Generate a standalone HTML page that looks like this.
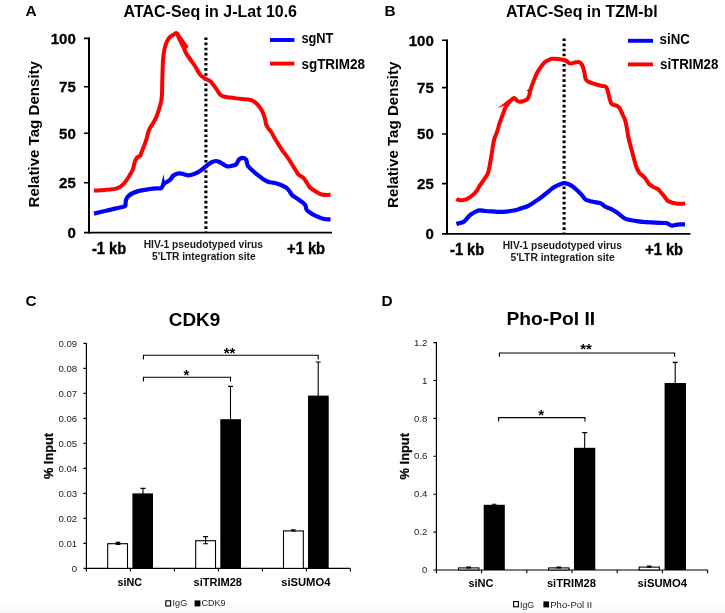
<!DOCTYPE html>
<html lang="en"><head><meta charset="utf-8"><title>Figure</title>
<style>
html,body{margin:0;padding:0;background:#fff;}
body{width:725px;height:613px;overflow:hidden;}
svg{display:block;font-family:"Liberation Sans",Arial,Helvetica,sans-serif;}
</style></head><body>
<svg width="725" height="613" viewBox="0 0 725 613">
<defs><linearGradient id="bg" x1="0" y1="0" x2="0" y2="1"><stop offset="0" stop-color="#ffffff"/><stop offset="1" stop-color="#f6f6f6"/></linearGradient></defs>
<rect x="0" y="0" width="725" height="613" fill="#fff"/>
<rect x="0" y="602" width="725" height="11" fill="url(#bg)"/>
<text x="25.6" y="16.4" font-size="15.4" font-weight="bold" text-anchor="start" fill="#000" >A</text>
<text x="123.6" y="16.6" font-size="15.8" font-weight="bold" text-anchor="start" fill="#000" textLength="173.4" lengthAdjust="spacingAndGlyphs" >ATAC-Seq in J-Lat 10.6</text>
<path d="M84,38.4 H89 M84,86.8 H89 M84,133.2 H89 M84,182.8 H89" stroke="#000" stroke-width="1.6" fill="none"/>
<path d="M89,37.6 V233.4" stroke="#000" stroke-width="2" fill="none"/>
<path d="M84,232.6 H332" stroke="#000" stroke-width="1.8" fill="none"/>
<text x="75.8" y="44.4" font-size="15" font-weight="bold" text-anchor="end" fill="#000" stroke="#000" stroke-width="0.3">100</text>
<text x="75.8" y="92.2" font-size="15" font-weight="bold" text-anchor="end" fill="#000" stroke="#000" stroke-width="0.3">75</text>
<text x="75.8" y="138.6" font-size="15" font-weight="bold" text-anchor="end" fill="#000" stroke="#000" stroke-width="0.3">50</text>
<text x="75.8" y="188.2" font-size="15" font-weight="bold" text-anchor="end" fill="#000" stroke="#000" stroke-width="0.3">25</text>
<text x="75.8" y="237.6" font-size="15" font-weight="bold" text-anchor="end" fill="#000" stroke="#000" stroke-width="0.3">0</text>
<text x="39.2" y="207.4" font-size="15.4" font-weight="bold" text-anchor="start" fill="#000" textLength="146.4" lengthAdjust="spacingAndGlyphs" transform="rotate(-90 39.2 207.4)" >Relative Tag Density</text>
<path d="M205.9,37.5 V232" stroke="#000" stroke-width="3.1" stroke-dasharray="2.6 2.504" fill="none"/>
<path d="M94.0,190.4 C95.3,190.4 99.3,190.3 102.0,190.2 C104.7,190.1 107.7,189.9 110.0,189.6 C112.3,189.3 114.3,189.0 116.0,188.6 C117.7,188.2 118.7,187.8 120.0,187.0 C121.3,186.2 122.7,185.0 124.0,183.5 C125.3,182.0 126.8,179.8 128.0,178.0 C129.2,176.2 130.2,174.5 131.0,173.0 C131.8,171.5 132.4,170.7 133.0,169.0 C133.6,167.3 134.0,164.7 134.5,163.0 C135.0,161.3 135.4,160.0 136.0,159.0 C136.6,158.0 137.3,157.5 138.0,157.0 C138.7,156.5 139.3,157.0 140.0,156.0 C140.7,155.0 141.3,152.7 142.0,151.0 C142.7,149.3 143.2,148.0 144.0,146.0 C144.8,144.0 145.7,141.7 146.5,139.0 C147.3,136.3 147.8,132.8 149.0,130.0 C150.2,127.2 152.2,124.8 153.5,122.5 C154.8,120.2 155.4,119.2 156.5,116.5 C157.6,113.8 159.1,109.2 160.0,106.0 C160.9,102.8 161.4,101.3 161.8,97.0 C162.2,92.7 162.1,86.2 162.3,80.0 C162.5,73.8 162.7,65.0 163.0,60.0 C163.3,55.0 163.8,52.7 164.3,50.0 C164.8,47.3 165.4,45.8 166.0,44.0 C166.6,42.2 167.3,40.7 168.0,39.5 C168.7,38.3 169.2,37.8 170.0,37.0 C170.8,36.2 171.9,35.7 173.0,35.0 C174.1,34.3 175.4,32.5 176.4,33.0 C177.4,33.5 177.9,35.8 179.0,38.0 C180.1,40.2 181.8,43.5 183.0,46.0 C184.2,48.5 184.8,50.8 186.0,53.0 C187.2,55.2 188.5,56.8 190.0,59.0 C191.5,61.2 193.3,63.4 195.0,66.0 C196.7,68.6 198.3,72.4 200.0,74.5 C201.7,76.6 203.3,77.4 205.0,78.5 C206.7,79.6 208.3,79.6 210.0,81.0 C211.7,82.4 213.3,84.8 215.0,87.0 C216.7,89.2 218.5,92.9 220.0,94.5 C221.5,96.1 222.3,96.0 224.0,96.5 C225.7,97.0 227.3,97.2 230.0,97.6 C232.7,98.0 236.7,98.4 240.0,98.8 C243.3,99.2 247.7,99.3 250.0,99.8 C252.3,100.2 252.7,100.6 254.0,101.5 C255.3,102.4 256.8,103.8 258.0,105.0 C259.2,106.2 260.2,107.7 261.0,109.0 C261.8,110.3 262.3,111.3 263.0,113.0 C263.7,114.7 264.5,117.2 265.0,119.0 C265.5,120.8 265.5,122.5 266.0,124.0 C266.5,125.5 267.2,126.8 268.0,128.0 C268.8,129.2 270.0,130.0 271.0,131.5 C272.0,133.0 273.0,135.2 274.0,137.0 C275.0,138.8 275.7,139.8 277.0,142.0 C278.3,144.2 280.2,147.3 282.0,150.0 C283.8,152.7 286.2,155.3 288.0,158.0 C289.8,160.7 291.3,163.3 293.0,166.0 C294.7,168.7 296.7,172.3 298.0,174.0 C299.3,175.7 300.0,175.4 301.0,176.2 C302.0,176.9 303.0,177.4 304.0,178.5 C305.0,179.6 306.0,181.5 307.0,183.0 C308.0,184.5 308.7,186.2 310.0,187.5 C311.3,188.8 313.3,189.9 315.0,191.0 C316.7,192.1 318.3,193.1 320.0,193.8 C321.7,194.5 323.2,194.9 325.0,195.0 C326.8,195.1 329.6,194.7 330.5,194.6" stroke="#ff0000" stroke-width="4.0" fill="none" stroke-linejoin="round" stroke-linecap="butt"/>
<path d="M176.6,31.8 L178.2,32.0 L188.2,46.0 L187.8,47.6 L185.6,49.2 L181.0,47.0 L177.0,37.0Z" fill="#ff0000"/>
<path d="M94.0,213.6 C95.8,213.2 101.5,211.8 105.0,211.0 C108.5,210.2 111.8,209.4 115.0,208.6 C118.2,207.8 122.8,207.2 124.5,206.4 C126.2,205.6 125.2,205.1 125.5,204.0 C125.8,202.9 125.6,201.2 126.0,200.0 C126.4,198.8 127.0,197.6 128.0,196.5 C129.0,195.4 130.0,194.5 132.0,193.5 C134.0,192.5 137.0,191.3 140.0,190.6 C143.0,189.8 147.2,189.4 150.0,189.0 C152.8,188.6 155.1,188.5 157.0,188.4 C158.9,188.3 160.2,188.8 161.2,188.2 C162.2,187.6 162.6,185.7 163.2,184.8 C163.8,183.9 164.2,183.5 165.0,182.9 C165.8,182.3 167.1,181.9 168.0,181.3 C168.9,180.7 169.8,180.1 170.5,179.3 C171.2,178.5 171.8,177.4 172.5,176.6 C173.2,175.8 174.1,175.1 175.0,174.6 C175.9,174.1 177.2,173.7 178.0,173.5 C178.8,173.3 179.0,173.2 180.0,173.3 C181.0,173.4 182.6,173.9 184.0,174.2 C185.4,174.5 186.9,175.3 188.6,175.3 C190.3,175.3 192.1,174.7 194.0,174.0 C195.9,173.3 198.2,172.2 200.0,171.0 C201.8,169.8 203.3,168.3 205.0,167.0 C206.7,165.7 208.7,164.1 210.0,163.2 C211.3,162.3 212.0,162.0 213.0,161.6 C214.0,161.2 215.0,161.0 216.0,161.0 C217.0,161.0 218.0,161.4 219.0,161.8 C220.0,162.2 221.0,162.9 222.0,163.5 C223.0,164.1 224.0,164.8 225.0,165.3 C226.0,165.8 226.8,166.4 228.0,166.5 C229.2,166.6 230.7,166.2 232.0,165.8 C233.3,165.5 235.1,165.0 236.0,164.4 C236.9,163.8 237.0,162.8 237.5,162.0 C238.0,161.2 238.4,160.2 239.0,159.6 C239.6,159.0 240.3,158.5 241.0,158.2 C241.7,157.9 242.3,157.9 243.0,158.0 C243.7,158.1 244.4,158.2 245.0,158.6 C245.6,159.0 246.1,159.6 246.4,160.3 C246.7,161.0 246.7,162.1 247.0,163.0 C247.3,163.9 247.0,164.7 248.0,166.0 C249.0,167.3 251.3,169.5 253.0,171.0 C254.7,172.5 256.3,173.9 258.0,175.2 C259.7,176.5 261.3,177.9 263.0,179.0 C264.7,180.1 266.5,181.1 268.0,181.7 C269.5,182.3 270.7,182.2 272.0,182.5 C273.3,182.8 274.5,182.8 276.0,183.2 C277.5,183.6 279.3,184.3 281.0,185.0 C282.7,185.7 284.7,186.7 286.0,187.6 C287.3,188.5 288.0,189.3 289.0,190.5 C290.0,191.7 290.7,193.7 292.0,195.0 C293.3,196.3 295.3,197.3 297.0,198.5 C298.7,199.7 300.8,201.1 302.0,202.0 C303.2,202.9 303.9,203.4 304.5,204.2 C305.1,204.9 305.5,205.7 305.8,206.5 C306.1,207.3 306.0,208.3 306.3,209.0 C306.6,209.7 306.9,210.1 307.5,210.7 C308.1,211.3 308.9,211.8 310.0,212.5 C311.1,213.2 312.5,214.2 314.0,215.0 C315.5,215.8 317.3,216.6 319.0,217.3 C320.7,218.0 322.1,218.6 324.0,219.0 C325.9,219.4 329.4,219.4 330.5,219.5" stroke="#0000ff" stroke-width="4.2" fill="none" stroke-linejoin="round"/>
<path d="M160.2,188.8 L163.4,174.3 L164.8,182.0 L164.0,187.0Z" fill="#0000ff"/>
<path d="M170.4,177.2 L170.9,174.4 L175.0,173.0 L174.5,176.0Z" fill="#0000ff"/>
<path d="M270,40 H294.4" stroke="#0000ff" stroke-width="3.9"/>
<path d="M270,63.6 H294.4" stroke="#ff0000" stroke-width="3.9"/>
<text x="301.4" y="43.3" font-size="14" font-weight="bold" text-anchor="start" fill="#000" textLength="32.0" lengthAdjust="spacingAndGlyphs" >sgNT</text>
<text x="301.4" y="68.9" font-size="14" font-weight="bold" text-anchor="start" fill="#000" textLength="63.7" lengthAdjust="spacingAndGlyphs" >sgTRIM28</text>
<text x="91.9" y="253.9" font-size="16.5" font-weight="bold" text-anchor="start" fill="#000" textLength="34.2" lengthAdjust="spacingAndGlyphs" stroke="#000" stroke-width="0.4">-1 kb</text>
<text x="287.1" y="253.9" font-size="16.5" font-weight="bold" text-anchor="start" fill="#000" textLength="38.0" lengthAdjust="spacingAndGlyphs" stroke="#000" stroke-width="0.4">+1 kb</text>
<text x="143.7" y="248.1" font-size="10.6" font-weight="bold" text-anchor="start" fill="#1a1a1a" textLength="119.3" lengthAdjust="spacingAndGlyphs" >HIV-1 pseudotyped virus</text>
<text x="152.0" y="260.1" font-size="10.6" font-weight="bold" text-anchor="start" fill="#1a1a1a" textLength="103.7" lengthAdjust="spacingAndGlyphs" >5'LTR integration site</text>
<text x="384.6" y="16.4" font-size="15.4" font-weight="bold" text-anchor="start" fill="#000" >B</text>
<text x="506.0" y="16.6" font-size="15.8" font-weight="bold" text-anchor="start" fill="#000" textLength="151.7" lengthAdjust="spacingAndGlyphs" >ATAC-Seq in TZM-bl</text>
<path d="M442,40.2 H447 M442,87.6 H447 M442,134 H447 M442,183.6 H447" stroke="#000" stroke-width="1.6" fill="none"/>
<path d="M447,39.4 V234.6" stroke="#000" stroke-width="2" fill="none"/>
<path d="M442,233.8 H690.4" stroke="#000" stroke-width="1.8" fill="none"/>
<text x="433.8" y="45.6" font-size="15" font-weight="bold" text-anchor="end" fill="#000" stroke="#000" stroke-width="0.3">100</text>
<text x="433.8" y="93.0" font-size="15" font-weight="bold" text-anchor="end" fill="#000" stroke="#000" stroke-width="0.3">75</text>
<text x="433.8" y="139.4" font-size="15" font-weight="bold" text-anchor="end" fill="#000" stroke="#000" stroke-width="0.3">50</text>
<text x="433.8" y="189.0" font-size="15" font-weight="bold" text-anchor="end" fill="#000" stroke="#000" stroke-width="0.3">25</text>
<text x="433.8" y="238.8" font-size="15" font-weight="bold" text-anchor="end" fill="#000" stroke="#000" stroke-width="0.3">0</text>
<text x="397.6" y="208.0" font-size="15.4" font-weight="bold" text-anchor="start" fill="#000" textLength="146.4" lengthAdjust="spacingAndGlyphs" transform="rotate(-90 397.6 208.0)" >Relative Tag Density</text>
<path d="M564.1,38.45 V233" stroke="#000" stroke-width="3.1" stroke-dasharray="2.6 2.504" fill="none"/>
<path d="M456.4,199.0 C456.8,199.2 458.1,199.8 459.0,200.0 C459.9,200.2 460.8,200.3 462.0,200.2 C463.2,200.1 464.7,199.9 466.0,199.4 C467.3,198.9 468.7,198.1 470.0,197.2 C471.3,196.3 472.8,195.1 474.0,194.0 C475.2,192.9 476.1,191.8 477.0,190.5 C477.9,189.2 478.7,187.3 479.5,186.0 C480.3,184.7 481.1,183.8 482.0,182.5 C482.9,181.2 484.0,179.6 485.0,178.0 C486.0,176.4 487.2,175.2 488.0,173.0 C488.8,170.8 489.3,167.5 489.8,165.0 C490.3,162.5 490.6,160.5 491.0,158.0 C491.4,155.5 491.9,152.7 492.3,150.0 C492.7,147.3 493.2,144.2 493.6,142.0 C494.1,139.8 494.4,138.7 495.0,137.0 C495.6,135.3 496.4,133.7 497.0,132.0 C497.6,130.3 498.0,128.7 498.5,127.0 C499.0,125.3 499.2,124.2 500.0,122.0 C500.8,119.8 502.0,116.6 503.0,114.0 C504.0,111.4 504.8,108.6 506.0,106.5 C507.2,104.4 508.7,102.9 510.0,101.5 C511.3,100.1 512.9,98.2 514.0,98.0 C515.1,97.8 515.7,99.4 516.5,100.0 C517.3,100.6 517.9,101.4 519.0,101.6 C520.1,101.8 521.8,101.5 523.0,101.2 C524.2,100.9 525.2,100.5 526.0,100.0 C526.8,99.5 527.3,99.2 527.8,98.5 C528.3,97.8 528.6,97.1 529.0,96.0 C529.4,94.9 529.7,93.3 530.0,92.0 C530.3,90.7 530.3,90.0 531.0,88.0 C531.7,86.0 533.0,82.5 534.0,80.0 C535.0,77.5 535.9,75.1 537.0,73.0 C538.1,70.9 539.3,69.2 540.5,67.5 C541.7,65.8 542.8,64.2 544.0,63.0 C545.2,61.8 546.7,61.0 548.0,60.3 C549.3,59.6 550.3,59.0 552.0,58.8 C553.7,58.6 556.0,58.8 558.0,59.0 C560.0,59.2 562.5,59.6 564.0,60.0 C565.5,60.4 566.0,60.7 567.0,61.3 C568.0,61.9 568.8,63.4 570.0,63.6 C571.2,63.8 572.7,62.9 574.0,62.6 C575.3,62.3 576.8,61.9 578.0,62.0 C579.2,62.1 580.2,62.7 581.0,63.5 C581.8,64.3 582.4,65.4 583.0,67.0 C583.6,68.6 584.1,71.0 584.5,73.0 C584.9,75.0 585.0,77.6 585.6,79.0 C586.2,80.4 586.9,80.8 588.0,81.5 C589.1,82.2 590.3,82.6 592.0,83.2 C593.7,83.8 596.2,84.5 598.0,85.0 C599.8,85.5 601.8,85.8 603.0,86.0 C604.2,86.2 604.8,86.1 605.5,86.5 C606.2,86.9 606.5,87.2 607.0,88.5 C607.5,89.8 608.0,92.1 608.5,94.0 C609.0,95.9 609.5,98.3 610.0,100.0 C610.5,101.7 610.9,103.2 611.6,104.0 C612.3,104.8 613.1,104.7 614.0,105.0 C614.9,105.3 616.1,105.3 617.0,105.8 C617.9,106.3 618.8,107.1 619.5,108.0 C620.2,108.9 620.4,109.8 621.0,111.0 C621.6,112.2 622.3,114.0 623.0,115.5 C623.7,117.0 624.5,118.4 625.0,120.0 C625.5,121.6 625.9,123.2 626.3,125.0 C626.7,126.8 626.9,128.8 627.3,131.0 C627.7,133.2 628.0,135.8 628.5,138.0 C629.0,140.2 629.2,141.2 630.0,144.0 C630.8,146.8 632.0,151.3 633.0,155.0 C634.0,158.7 635.2,163.4 636.0,166.0 C636.8,168.6 637.3,169.2 638.0,170.5 C638.7,171.8 639.2,172.6 640.0,173.5 C640.8,174.4 642.2,175.2 643.0,176.0 C643.8,176.8 644.3,177.2 645.0,178.0 C645.7,178.8 646.3,180.0 647.0,181.0 C647.7,182.0 648.0,183.0 649.0,184.0 C650.0,185.0 651.5,185.9 653.0,186.8 C654.5,187.7 656.7,188.2 658.0,189.2 C659.3,190.1 660.0,191.4 661.0,192.5 C662.0,193.6 663.2,195.0 664.0,196.0 C664.8,197.0 665.3,197.9 666.0,198.7 C666.7,199.5 667.0,200.3 668.0,201.0 C669.0,201.7 670.7,202.2 672.0,202.6 C673.3,203.0 674.7,203.2 676.0,203.4 C677.3,203.6 678.5,203.7 680.0,203.7 C681.5,203.7 684.2,203.6 685.0,203.6" stroke="#ff0000" stroke-width="4.0" fill="none" stroke-linejoin="round"/>
<path d="M497.4,108.2 L510.0,98.4 L506.0,105.0Z" fill="#ff0000"/>
<path d="M526.2,90.6 L530.0,88.4 L530.0,92.6Z" fill="#ff0000"/>
<path d="M456.4,224.0 C457.0,223.8 458.7,223.4 460.0,223.0 C461.3,222.6 462.8,222.3 464.0,221.6 C465.2,220.8 466.0,219.6 467.0,218.5 C468.0,217.4 468.8,216.2 470.0,215.2 C471.2,214.2 472.5,213.3 474.0,212.5 C475.5,211.7 477.2,210.7 479.0,210.4 C480.8,210.2 482.8,210.8 485.0,211.0 C487.2,211.2 489.7,211.3 492.0,211.4 C494.3,211.5 496.7,211.8 499.0,211.8 C501.3,211.8 503.8,211.8 506.0,211.6 C508.2,211.4 510.0,211.2 512.0,210.8 C514.0,210.4 516.2,209.9 518.0,209.4 C519.8,208.9 521.3,208.4 523.0,207.8 C524.7,207.2 526.3,206.8 528.0,206.0 C529.7,205.2 531.3,204.1 533.0,203.0 C534.7,201.9 536.3,200.8 538.0,199.6 C539.7,198.4 541.3,197.3 543.0,196.0 C544.7,194.7 546.5,193.2 548.0,192.0 C549.5,190.8 550.8,189.5 552.0,188.6 C553.2,187.7 553.8,187.2 555.0,186.6 C556.2,186.0 557.5,185.4 559.0,184.8 C560.5,184.2 562.5,183.3 564.0,183.2 C565.5,183.1 566.7,183.5 568.0,184.0 C569.3,184.5 570.7,185.1 572.0,186.0 C573.3,186.9 574.7,188.1 576.0,189.3 C577.3,190.5 578.8,191.8 580.0,193.0 C581.2,194.2 582.2,195.5 583.0,196.5 C583.8,197.5 584.2,198.3 585.0,199.0 C585.8,199.7 586.8,200.2 588.0,200.6 C589.2,201.0 590.7,201.2 592.0,201.5 C593.3,201.8 594.7,202.1 596.0,202.3 C597.3,202.6 598.9,202.6 600.0,203.0 C601.1,203.4 601.7,203.9 602.5,204.5 C603.3,205.1 603.9,205.9 605.0,206.5 C606.1,207.1 607.7,207.6 609.0,208.2 C610.3,208.8 611.5,209.2 613.0,210.0 C614.5,210.8 616.2,212.0 618.0,213.3 C619.8,214.6 622.5,217.0 624.0,218.0 C625.5,219.0 626.0,219.0 627.0,219.3 C628.0,219.6 628.3,219.7 630.0,220.0 C631.7,220.3 634.7,220.9 637.0,221.2 C639.3,221.5 641.0,221.8 644.0,222.0 C647.0,222.2 651.3,222.5 655.0,222.7 C658.7,222.9 663.7,222.7 666.0,223.0 C668.3,223.3 668.1,223.9 669.0,224.3 C669.9,224.8 670.6,225.6 671.6,225.7 C672.6,225.8 673.6,225.2 675.0,225.0 C676.4,224.8 678.3,224.5 680.0,224.4 C681.7,224.3 684.2,224.3 685.0,224.3" stroke="#0000ff" stroke-width="4.2" fill="none" stroke-linejoin="round"/>
<path d="M628,40.8 H653" stroke="#0000ff" stroke-width="3.9"/>
<path d="M628,64.4 H653" stroke="#ff0000" stroke-width="3.9"/>
<text x="659.6" y="44.1" font-size="14" font-weight="bold" text-anchor="start" fill="#000" textLength="30.2" lengthAdjust="spacingAndGlyphs" >siNC</text>
<text x="660.0" y="69.2" font-size="14" font-weight="bold" text-anchor="start" fill="#000" textLength="58.4" lengthAdjust="spacingAndGlyphs" >siTRIM28</text>
<text x="450.0" y="254.9" font-size="16.5" font-weight="bold" text-anchor="start" fill="#000" textLength="34.2" lengthAdjust="spacingAndGlyphs" stroke="#000" stroke-width="0.4">-1 kb</text>
<text x="645.2" y="254.9" font-size="16.5" font-weight="bold" text-anchor="start" fill="#000" textLength="37.8" lengthAdjust="spacingAndGlyphs" stroke="#000" stroke-width="0.4">+1 kb</text>
<text x="502.7" y="249.0" font-size="10.6" font-weight="bold" text-anchor="start" fill="#1a1a1a" textLength="119.3" lengthAdjust="spacingAndGlyphs" >HIV-1 pseudotyped virus</text>
<text x="510.4" y="261.0" font-size="10.6" font-weight="bold" text-anchor="start" fill="#1a1a1a" textLength="104.3" lengthAdjust="spacingAndGlyphs" >5'LTR integration site</text>
<text x="25.6" y="306.4" font-size="15.4" font-weight="bold" text-anchor="start" fill="#000" >C</text>
<text x="168.8" y="326.0" font-size="19" font-weight="bold" text-anchor="start" fill="#000" textLength="51.4" lengthAdjust="spacingAndGlyphs" >CDK9</text>
<path d="M86.4,343 V571.6" stroke="#000" stroke-width="1.2"/>
<path d="M83.4,568.4 H350.4" stroke="#000" stroke-width="1.2"/>
<path d="M83.4,543.4 H86.4 M83.4,518.4 H86.4 M83.4,493.4 H86.4 M83.4,468.4 H86.4 M83.4,443.4 H86.4 M83.4,418.4 H86.4 M83.4,393.4 H86.4 M83.4,368.4 H86.4 M83.4,343.4 H86.4 M130.4,568.4 V571.6 M174.4,568.4 V571.6 M218.4,568.4 V571.6 M262.4,568.4 V571.6 M306.4,568.4 V571.6 M350.4,568.4 V571.6 " stroke="#000" stroke-width="1.1" fill="none"/>
<text x="77.2" y="571.5" font-size="9.6" font-weight="normal" text-anchor="end" fill="#1a1a1a" >0</text>
<text x="77.2" y="546.5" font-size="9.6" font-weight="normal" text-anchor="end" fill="#1a1a1a" >0.01</text>
<text x="77.2" y="521.5" font-size="9.6" font-weight="normal" text-anchor="end" fill="#1a1a1a" >0.02</text>
<text x="77.2" y="496.5" font-size="9.6" font-weight="normal" text-anchor="end" fill="#1a1a1a" >0.03</text>
<text x="77.2" y="471.5" font-size="9.6" font-weight="normal" text-anchor="end" fill="#1a1a1a" >0.04</text>
<text x="77.2" y="446.5" font-size="9.6" font-weight="normal" text-anchor="end" fill="#1a1a1a" >0.05</text>
<text x="77.2" y="421.5" font-size="9.6" font-weight="normal" text-anchor="end" fill="#1a1a1a" >0.06</text>
<text x="77.2" y="396.5" font-size="9.6" font-weight="normal" text-anchor="end" fill="#1a1a1a" >0.07</text>
<text x="77.2" y="371.5" font-size="9.6" font-weight="normal" text-anchor="end" fill="#1a1a1a" >0.08</text>
<text x="77.2" y="346.5" font-size="9.6" font-weight="normal" text-anchor="end" fill="#1a1a1a" >0.09</text>
<text x="53.2" y="479.0" font-size="12.8" font-weight="bold" text-anchor="start" fill="#000" textLength="46.0" lengthAdjust="spacingAndGlyphs" transform="rotate(-90 53.2 479.0)" stroke="#000" stroke-width="0.25">% Input</text>
<rect x="107.7" y="543.7" width="19.8" height="24.7" fill="#fff" stroke="#000" stroke-width="1.1"/>
<path d="M118.0,542.4 V544.4 M115.7,542.4 H120.3 M115.7,544.4 H120.3" stroke="#000" stroke-width="1.1" fill="none"/>
<rect x="132.4" y="493.4" width="20.6" height="75.0" fill="#000"/>
<path d="M143.0,488.4 V494.0 M140.5,488.4 H145.5" stroke="#000" stroke-width="1.1" fill="none"/>
<rect x="195.7" y="540.7" width="19.8" height="27.7" fill="#fff" stroke="#000" stroke-width="1.1"/>
<path d="M205.6,536.6 V543.8 M203.1,536.6 H208.1 M203.1,543.8 H208.1" stroke="#000" stroke-width="1.1" fill="none"/>
<rect x="220.3" y="419.2" width="20.7" height="149.2" fill="#000"/>
<path d="M230.5,386.4 V420.0 M228.0,386.4 H233.0" stroke="#000" stroke-width="1.1" fill="none"/>
<rect x="283.5" y="530.9" width="19.8" height="37.5" fill="#fff" stroke="#000" stroke-width="1.1"/>
<path d="M293.3,529.8 V531.0 M291.0,529.8 H295.6 M291.0,531.0 H295.6" stroke="#000" stroke-width="1.1" fill="none"/>
<rect x="308.0" y="395.6" width="20.7" height="172.8" fill="#000"/>
<path d="M318.2,362.0 V396.0 M315.7,362.0 H320.7" stroke="#000" stroke-width="1.1" fill="none"/>
<path d="M143.4,359.4 V355.2 H318.2 V359.4" stroke="#000" stroke-width="1.1" fill="none"/>
<path d="M143.4,381.4 V377.2 H230.5 V381.4" stroke="#000" stroke-width="1.1" fill="none"/>
<text x="229.5" y="357.5" font-size="15" font-weight="bold" text-anchor="middle" fill="#000" >**</text>
<text x="186.3" y="379.5" font-size="15" font-weight="bold" text-anchor="middle" fill="#000" >*</text>
<text x="129.8" y="586.0" font-size="11.2" font-weight="bold" text-anchor="middle" fill="#000" textLength="24.6" lengthAdjust="spacingAndGlyphs" >siNC</text>
<text x="217.7" y="586.0" font-size="11.2" font-weight="bold" text-anchor="middle" fill="#000" textLength="48.4" lengthAdjust="spacingAndGlyphs" >siTRIM28</text>
<text x="305.8" y="586.0" font-size="11.2" font-weight="bold" text-anchor="middle" fill="#000" textLength="49.2" lengthAdjust="spacingAndGlyphs" >siSUMO4</text>
<rect x="165.8" y="600.8" width="4.8" height="5.2" fill="#fff" stroke="#000" stroke-width="1.1"/>
<text x="172.6" y="606.3" font-size="9" font-weight="normal" text-anchor="start" fill="#262626" textLength="14.6" lengthAdjust="spacingAndGlyphs" >IgG</text>
<rect x="194.6" y="600.4" width="5.8" height="6" fill="#000"/>
<text x="201.6" y="606.3" font-size="9" font-weight="normal" text-anchor="start" fill="#262626" textLength="24.0" lengthAdjust="spacingAndGlyphs" >CDK9</text>
<text x="381.6" y="306.4" font-size="15.4" font-weight="bold" text-anchor="start" fill="#000" >D</text>
<text x="506.4" y="324.8" font-size="19" font-weight="bold" text-anchor="start" fill="#000" textLength="88.8" lengthAdjust="spacingAndGlyphs" >Pho-Pol II</text>
<path d="M436.4,342 V573.2" stroke="#000" stroke-width="1.2"/>
<path d="M433.4,570.0 H707.8" stroke="#000" stroke-width="1.2"/>
<path d="M433.4,532.1 H436.4 M433.4,494.2 H436.4 M433.4,456.3 H436.4 M433.4,418.4 H436.4 M433.4,380.5 H436.4 M433.4,342.6 H436.4 M481.6,570.0 V573.2 M526.8,570.0 V573.2 M572.0,570.0 V573.2 M617.2,570.0 V573.2 M662.4,570.0 V573.2 M707.6,570.0 V573.2 " stroke="#000" stroke-width="1.1" fill="none"/>
<text x="427.4" y="573.1" font-size="9.6" font-weight="normal" text-anchor="end" fill="#1a1a1a" >0</text>
<text x="427.4" y="535.2" font-size="9.6" font-weight="normal" text-anchor="end" fill="#1a1a1a" >0.2</text>
<text x="427.4" y="497.3" font-size="9.6" font-weight="normal" text-anchor="end" fill="#1a1a1a" >0.4</text>
<text x="427.4" y="459.4" font-size="9.6" font-weight="normal" text-anchor="end" fill="#1a1a1a" >0.6</text>
<text x="427.4" y="421.5" font-size="9.6" font-weight="normal" text-anchor="end" fill="#1a1a1a" >0.8</text>
<text x="427.4" y="383.6" font-size="9.6" font-weight="normal" text-anchor="end" fill="#1a1a1a" >1</text>
<text x="427.4" y="345.7" font-size="9.6" font-weight="normal" text-anchor="end" fill="#1a1a1a" >1.2</text>
<text x="408.8" y="479.4" font-size="12.8" font-weight="bold" text-anchor="start" fill="#000" textLength="46.4" lengthAdjust="spacingAndGlyphs" transform="rotate(-90 408.8 479.4)" stroke="#000" stroke-width="0.25">% Input</text>
<rect x="458.5" y="567.9" width="20.4" height="2.1" fill="#fff" stroke="#000" stroke-width="1.1"/>
<path d="M468.6,567.0 V568.0 M466.3,567.0 H470.9 M466.3,568.0 H470.9" stroke="#000" stroke-width="1.1" fill="none"/>
<rect x="483.7" y="504.8" width="21.1" height="65.2" fill="#000"/>
<path d="M494.2,504.2 V505.0 M491.9,504.2 H496.5" stroke="#000" stroke-width="1.1" fill="none"/>
<rect x="548.7" y="567.9" width="20.3" height="2.1" fill="#fff" stroke="#000" stroke-width="1.1"/>
<path d="M558.8,567.0 V568.0 M556.5,567.0 H561.1 M556.5,568.0 H561.1" stroke="#000" stroke-width="1.1" fill="none"/>
<rect x="574.0" y="447.8" width="21.3" height="122.2" fill="#000"/>
<path d="M584.7,432.6 V448.4 M582.2,432.6 H587.2" stroke="#000" stroke-width="1.1" fill="none"/>
<rect x="639.2" y="567.1" width="20.1" height="2.9" fill="#fff" stroke="#000" stroke-width="1.1"/>
<path d="M649.2,566.0 V567.2 M646.9,566.0 H651.5 M646.9,567.2 H651.5" stroke="#000" stroke-width="1.1" fill="none"/>
<rect x="664.6" y="383.0" width="21.4" height="187.0" fill="#000"/>
<path d="M675.2,362.4 V383.6 M672.7,362.4 H677.7" stroke="#000" stroke-width="1.1" fill="none"/>
<path d="M499.4,356.8 V353 H674.6 V356.8" stroke="#000" stroke-width="1.1" fill="none"/>
<path d="M498.6,421.4 V417.6 H585 V421.4" stroke="#000" stroke-width="1.1" fill="none"/>
<text x="586.0" y="354.3" font-size="15" font-weight="bold" text-anchor="middle" fill="#000" >**</text>
<text x="541.2" y="419.5" font-size="15" font-weight="bold" text-anchor="middle" fill="#000" >*</text>
<text x="481.0" y="586.8" font-size="11.2" font-weight="bold" text-anchor="middle" fill="#000" textLength="25.2" lengthAdjust="spacingAndGlyphs" >siNC</text>
<text x="571.4" y="586.8" font-size="11.2" font-weight="bold" text-anchor="middle" fill="#000" textLength="49.0" lengthAdjust="spacingAndGlyphs" >siTRIM28</text>
<text x="662.3" y="586.8" font-size="11.2" font-weight="bold" text-anchor="middle" fill="#000" textLength="49.6" lengthAdjust="spacingAndGlyphs" >siSUMO4</text>
<rect x="513.6" y="601.6" width="4.8" height="5.2" fill="#fff" stroke="#000" stroke-width="1.1"/>
<text x="520.0" y="607.6" font-size="9" font-weight="normal" text-anchor="start" fill="#262626" textLength="14.2" lengthAdjust="spacingAndGlyphs" >IgG</text>
<rect x="543.4" y="601.4" width="5.6" height="6" fill="#000"/>
<text x="550.2" y="607.6" font-size="9" font-weight="normal" text-anchor="start" fill="#262626" textLength="42.0" lengthAdjust="spacingAndGlyphs" >Pho-Pol II</text>
</svg>
</body></html>
